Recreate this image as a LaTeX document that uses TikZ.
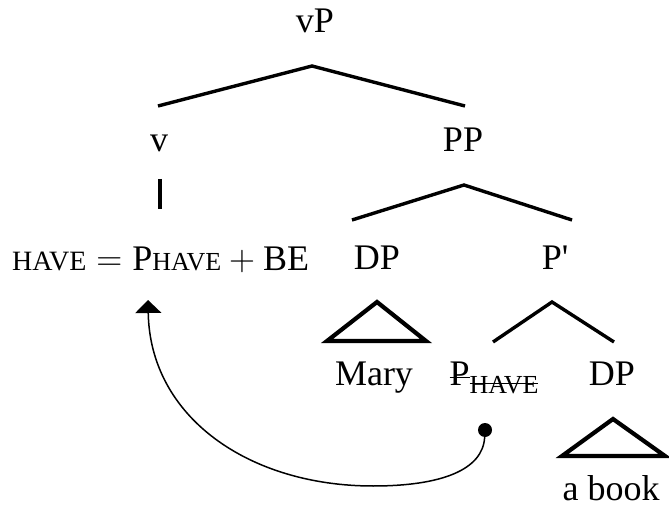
\documentclass[tikz,border=0pt]{standalone}
\usepackage{fix-cm}
\usepackage{fontspec}
\setmainfont{Liberation Serif}
\usetikzlibrary{arrows.meta}
\newcommand\hv{{\fontsize{28}{28}\selectfont HAVE}}
\newcommand\subhv{{\fontsize{26}{26}\selectfont HAVE}}
\newsavebox\crossbox
\newcommand\crossed[2]{\sbox\crossbox{#2}\rlap{\rule[#1]{\wd\crossbox}{1.2pt}}\usebox\crossbox}
\tikzset{
  label/.style={font=\fontsize{36}{40}\selectfont, inner sep=0pt, anchor=base},
  branch/.style={line width=3.4pt},
  roof/.style={line width=4.2pt, line join=miter},
  move/.style={line width=1.5pt, -{Triangle[length=13pt,width=26pt]}},
  trace dot/.style={circle, fill, inner sep=0pt, minimum size=14pt}
}
\begin{document}
\begin{tikzpicture}[x=1pt,y=-1pt]
  \useasboundingbox (0,0) rectangle (669,510);
  % labels
  \node[label] (vP) at (315,33) {vP};
  \node[label] (v) at (159,152) {v};
  \node[label] (PP) at (463,152) {PP};
  \node[label, anchor=base west] (have) at (12,271)
    {\hv${}={}$P\subhv${}+{}$BE};
  \node[label] (DP) at (377,270) {DP};
  \node[label] (Pbar) at (555,270) {P\textquotesingle};
  \node[label] (Mary) at (374,385) {Mary};
  \node[label] (trace-P) at (494,385)
    {\crossed{7pt}{P}\raisebox{-8pt}{\crossed{9pt}{\subhv}}};
  \node[label] (DPb) at (612,385) {DP};
  \node[label] (book) at (611,500) {a book};
  % branches
  \draw[branch] ([shift={(-1,-46)}]v.base) -- ([shift={(-3,33)}]vP.base)
    -- ([shift={(2,-46)}]PP.base);
  \draw[branch] ([shift={(1,27)}]v.base) -- ([shift={(148,-62)}]have.base west);
  \draw[branch] ([shift={(-25,-50)}]DP.base) -- ([shift={(1,33)}]PP.base)
    -- ([shift={(17,-50)}]Pbar.base);
  \draw[roof] ([shift={(0,32)}]DP.base) -- ([shift={(-50,71)}]DP.base)
    -- ([shift={(49,71)}]DP.base) -- cycle;
  \draw[branch] ([shift={(-1,-43)}]trace-P.base) -- ([shift={(-3,32)}]Pbar.base)
    -- ([shift={(2,-43)}]DPb.base);
  \draw[roof] ([shift={(1,34)}]DPb.base) -- ([shift={(-50,71)}]DPb.base)
    -- ([shift={(53,71)}]DPb.base) -- cycle;
  % movement
  \node[trace dot] (trace) at ([shift={(-9,45)}]trace-P.base) {};
  \coordinate (swing) at (373,486);
  \coordinate (landing) at ([shift={(136,29)}]have.base west);
  \draw[move] (trace) .. controls +(-2,40) and +(68,0) .. (swing)
    .. controls +(-123,0) and +(2,118) .. (landing);
\end{tikzpicture}
\end{document}
